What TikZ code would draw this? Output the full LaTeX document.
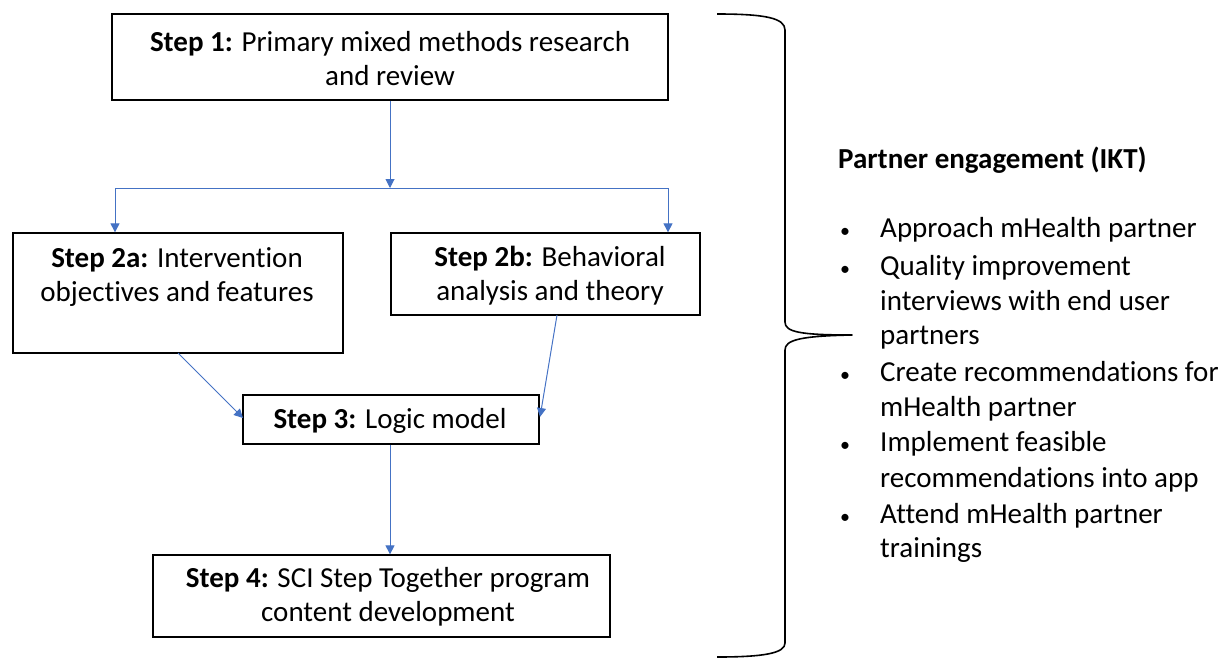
\documentclass[tikz,border=0pt]{standalone}
\usepackage{fontspec}
\setmainfont{Carlito}[Ligatures=NoCommon]
\usetikzlibrary{arrows.meta}
\definecolor{lnblue}{HTML}{4472C4}
\tikzset{
  boxstyle/.style={draw=black, line width=1.3pt, inner sep=0pt},
  boxtext/.style={align=center, font=\fontsize{29}{34}\selectfont, inner sep=0pt},
  conn/.style={draw=lnblue, line width=1pt, -{Triangle[length=9pt,width=9pt]}},
  plain/.style={draw=lnblue, line width=1pt},
  itemtext/.style={anchor=base west, font=\fontsize{29}{34}\selectfont, inner sep=0pt},
  bullettext/.style={anchor=base west, font=\fontsize{20}{34}\selectfont, inner sep=0pt},
}
\begin{document}
\begin{tikzpicture}[x=1pt,y=-1pt]
\useasboundingbox (0,0) rectangle (1230,659);
% boxes
\node[boxstyle, minimum width=556pt, minimum height=86pt] (s1) at (390,57) {};
\node[boxstyle, minimum width=330pt, minimum height=120pt] (s2a) at (178,293) {};
\node[boxstyle, minimum width=309pt, minimum height=82pt] (s2b) at (545.5,274) {};
\node[boxstyle, minimum width=296pt, minimum height=49pt] (s3) at (391,419.5) {};
\node[boxstyle, minimum width=457pt, minimum height=82pt] (s4) at (381.5,596) {};
% texts
\node[boxtext] (t1) at (390,59) {\textbf{Step 1:} Primary mixed methods research\\and review};
\node[boxtext] (t2a) at (177,277) {\textbf{Step 2a:} Intervention\\objectives and features};
\node[boxtext] (t2b) at (550,276) {\textbf{Step 2b:} Behavioral\\analysis and theory};
\node[boxtext] (t3) at (390,421) {\textbf{Step 3:} Logic model};
\node[boxtext] (t4) at (388,597) {\textbf{Step 4:} SCI Step Together program\\content development};
% connectors
\coordinate (j) at (390,188);
\coordinate (jl) at (115,188);
\coordinate (jr) at (668,188);
\draw[conn] (s1.south -| j) -- (j);
\draw[plain] (jl) -- (jr);
\draw[conn] (jl) -- (jl |- s2a.north);
\draw[conn] (jr) -- (jr |- s2b.north);
\draw[conn] (178,353) -- (243,418);
\draw[conn] (557,315) -- (540,417);
\draw[conn] (s3.south -| j) -- (s4.north -| j);
% brace
\draw[line width=1.6pt, line join=round] (717,14) .. controls (765,14) and (785,18) .. (785,30) -- (785,322) .. controls (785,332) and (800,335) .. (852,335) .. controls (800,336) and (785,340) .. (785,350) -- (785,643) .. controls (785,653) and (765,657) .. (717,657);
% partner list
\node[itemtext, font=\fontsize{29}{34}\selectfont\bfseries] (hd) at (838,168) {Partner engagement (IKT)};
\foreach \y/\t [count=\i] in {237/Approach mHealth partner, 275/Quality improvement, 310/interviews with end user, 344/partners, 381/Create recommendations for, 416/mHealth partner, 451/Implement feasible, 487/recommendations into app, 523/Attend mHealth partner, 557/trainings}{
  \node[itemtext] (l\i) at (880,\y) {\t};
}
\foreach \y [count=\i] in {237,275,381,451,523}{
  \node[bullettext] (b\i) at (840,\y) {•};
}
\end{tikzpicture}
\end{document}
